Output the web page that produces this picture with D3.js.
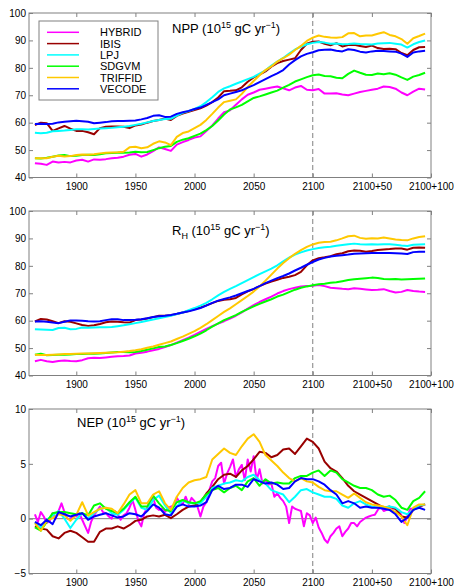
<!DOCTYPE html>
<html><head><meta charset="utf-8">
<script src="https://cdn.jsdelivr.net/npm/d3@7/dist/d3.min.js"></script>
<style>
body{margin:0;background:#fff;}
svg{display:block;font-family:"Liberation Sans",Arial,Helvetica,sans-serif;}
</style>
</head><body>
<svg id="chart" width="454" height="587"></svg>
<script>
// ---------------- DATA ----------------
const years = [1865,1870,1875,1880,1885,1890,1895,1900,1905,1910,
  1915,1920,1925,1930,1935,1940,1945,1950,1955,1960,
  1965,1970,1975,1980,1985,1990,1995,2000,2005,2010,
  2015,2020,2025,2030,2035,2040,2045,2050,2055,2060,
  2065,2070,2075,2080,2085,2090,2095,2100,2105,2110,
  2115,2120,2125,2130,2135,2140,2145,2150,2155,2160,
  2165,2170,2175,2180,2185,2190,2195];

// finer year grid (used for the spiky HYBRID NEP series)
const yearsFine = [1865,1867.5,1870,1872.5,1875,1877.5,1880,1882.5,1885,1887.5,
  1890,1892.5,1895,1897.5,1900,1902.5,1905,1907.5,1910,1912.5,
  1915,1917.5,1920,1922.5,1925,1927.5,1930,1932.5,1935,1937.5,
  1940,1942.5,1945,1947.5,1950,1952.5,1955,1957.5,1960,1962.5,
  1965,1967.5,1970,1972.5,1975,1977.5,1980,1982.5,1985,1987.5,
  1990,1992.5,1995,1997.5,2000,2002.5,2005,2007.5,2010,2012.5,
  2015,2017.5,2020,2022.5,2025,2027.5,2030,2032.5,2035,2037.5,
  2040,2042.5,2045,2047.5,2050,2052.5,2055,2057.5,2060,2062.5,
  2065,2067.5,2070,2072.5,2075,2077.5,2080,2082.5,2085,2087.5,
  2090,2092.5,2095,2097.5,2100,2102.5,2105,2107.5,2110,2112.5,
  2115,2117.5,2120,2122.5,2125,2127.5,2130,2132.5,2135,2137.5,
  2140,2142.5,2145,2147.5,2150,2152.5,2155,2157.5,2160,2162.5,
  2165,2167.5,2170,2172.5,2175,2177.5,2180,2182.5,2185,2187.5,
  2190,2192.5,2195];

const models = ["HYBRID","IBIS","LPJ","SDGVM","TRIFFID","VECODE"];
const colors = ["#ff00ff","#990000","#00ffff","#00ff00","#ffc800","#0000ff"];

const xTickValues = [1900,1950,2000,2050,2100,2150,2200];
const xTickLabels = ["1900","1950","2000","2050","2100","2100+50","2100+100"];
const yTicksFlux = [40,50,60,70,80,90,100];
const yTicksNEP = [-5,0,5,10];

// NPP
const nppHYBRID = [45.2,45,44.6,45.8,45.5,45.7,45.5,46.2,46.5,45.8,
  46.6,46.5,46.7,47,47.2,47.6,48.3,48.6,47.6,48.4,
  49.6,51,50.4,49.7,52,52.9,53.7,54.6,55,57,
  59,61.5,63.8,64.5,66.5,68.5,70.2,71,72,72.4,
  72.8,73.2,72.5,71.8,72.8,73.4,72,71.8,72.3,70.6,
  70.6,70.7,70.3,70,70.6,71.2,71.6,72,72.4,73.2,
  73,72.4,71,70,71.3,72.4,72.1];
const nppIBIS = [59.1,60,59.8,57,57.9,58.8,57.8,57,57,56.5,
  55.8,58,58.5,58.6,58.6,58.5,58,59,59.3,60,
  60.6,61,61.5,61,62.5,63.3,64,64.6,65.2,66.2,
  67.5,69.2,71.5,71.6,71.8,72.9,74.9,76.5,77.5,78.7,
  80.4,81.7,82.5,83,83.5,86.5,88.8,89.5,89.6,88.8,
  88.2,89,87.8,88.3,88.4,88,87.6,88.1,87.2,86.9,
  87,86.8,85.4,84.6,86.5,87.5,87.6];
const nppLPJ = [56.3,56.1,56.3,56.9,57,57.1,57.3,57.6,57.6,57.5,
  57.7,57.9,58,58.1,58.3,58.5,58.8,59.2,59.6,60.1,
  60.6,61,61.3,61.4,62.6,63.6,64.2,65,66,67.5,
  69.3,71.2,72.5,73.3,74.2,75,75.9,76.7,77.9,79.1,
  80.8,82.3,83.6,85.2,86.7,87.7,88.6,89.1,89.4,89.2,
  88.8,88.9,88.6,88.7,88.9,88.7,88.6,88.5,88.9,89,
  89.1,88.8,88.5,87.4,88.6,89.4,90];
const nppSDGVM = [47,46.9,47.2,47.6,48,48.2,47.8,47.9,48.2,48.3,
  48.2,48.5,48.8,48.9,49,49,49.1,49.4,49.2,49.3,
  50,50.7,51.2,51.5,53,53.8,54.3,55.2,56,57.3,
  58.8,60.8,63,64.8,65.6,66.5,67.8,69,69.6,70.3,
  71,71.7,72.8,73.8,75,75.8,76.6,77.3,77.6,77,
  76.9,76.4,76.2,77.8,79,78.2,77.5,77.4,77.9,77.7,
  78,77.5,76.5,75.6,76.8,77.4,78.2];
const nppTRIFFID = [47,47,47,47.6,47.9,47.7,47.8,48.2,48.4,48.3,
  48.5,48.8,49,49.1,49.2,49.4,51,51.2,50.7,51,
  52.3,53.2,52.8,51.8,54.8,56.2,56.8,58,59.2,61,
  63.2,65.5,67.5,68,68.5,70.5,73,75.2,77.3,79.2,
  80.5,82.3,83.5,84.8,86.5,88,89.8,91,91.8,91.3,
  91.1,91,91.2,92.6,92.7,91.5,91.8,91.8,92.4,93,
  92,91.5,90.5,88.8,90.8,91.6,92.5];
const nppVECODE = [59.5,59.6,59.5,59.6,60.1,60.3,60.5,60.7,60.5,60.3,
  59.8,60,60.2,60.5,60.6,60.6,60.7,60.8,61.2,61.7,
  62.5,62.7,62.1,62.2,63.2,63.8,64.3,65,65.5,66.5,
  67.5,68.5,70,70.6,71.2,71.8,72.8,73.7,74.8,75.9,
  77,78,79.2,81.2,82.8,84.2,85.1,85.7,86.4,86.6,
  86.7,86.2,86,86.8,86.5,85.9,85.6,86,86.2,86.1,
  86,85.9,85.2,84,85.6,86,86.2];

// RH
const rhHYBRID = [45.2,45.7,45.2,44.9,45.3,45.5,45.3,45.2,45.6,46.3,
  46.5,46.4,46.6,46.8,47,47.1,47.3,48,48.3,48.7,
  49.2,49.7,50.4,51.1,52,52.9,53.8,54.8,55.9,57,
  58,58.9,59.8,60.8,61.8,63,64.4,65.7,66.8,67.8,
  68.8,69.9,70.8,71.5,72,72.5,72.6,72.7,73,72.6,
  72,71.8,71.6,71.5,71.8,71.6,71.4,71.2,71.3,71.5,
  70.8,70.3,70.5,71.2,70.8,70.6,70.5];
const rhIBIS = [59.7,60.6,60.4,59.8,59.1,59.8,59.6,59,58.4,58.1,
  58.3,58.8,59.4,59.7,59.6,59.4,59.3,60.2,60.4,60.8,
  61.3,61.8,61.8,62,62.4,63,63.5,64.2,64.8,65.6,
  66.4,67.2,67.6,67.8,68.3,69.6,70.7,71.5,72.6,73.5,
  74.3,74.9,75.6,76,76.6,77.8,80.2,82,82.8,83.1,
  83.5,84.2,84.6,85.3,85.6,85.5,85.1,85.4,85.8,86,
  86.1,86.3,86.3,85.9,86.6,86.7,86.6];
const rhLPJ = [56.9,56.8,56.7,56.6,57.3,57.4,56.9,57,57.5,57.4,
  57.5,57.6,57.6,57.7,58,58.3,58.7,59.1,59.5,60,
  60.4,60.9,61.3,61.8,62.4,63,63.8,64.6,65.5,66.5,
  67.8,69.2,70.5,71.6,72.6,73.7,74.8,75.9,77,78,
  79,80.2,81.6,83,84.1,84.9,85.6,86.1,86.5,86.8,
  87,87.3,87.6,87.9,88.1,87.9,87.8,87.9,87.8,87.9,
  87.9,87.7,87.4,87.2,87.7,87.8,87.9];
const rhSDGVM = [47.6,47.9,47.4,47.5,47.6,47.6,47.7,47.8,47.8,47.9,
  47.9,48,48.2,48.4,48.6,48.6,48.5,48.6,48.9,49.4,
  49.9,50.4,50.6,51.1,51.8,52.6,53.4,54.3,55.3,56.5,
  57.8,59,60.2,61.1,62,63.2,64.2,65.2,66.1,67,
  67.8,68.8,69.5,70.4,71.3,72,72.5,72.9,73.3,73.5,
  73.8,74,74.4,74.8,75.1,75.3,75.5,75.7,75.6,75.2,
  75.1,75.2,75,75.1,75.2,75.3,75.4];
const rhTRIFFID = [47.6,47.5,47.5,47.6,47.7,47.8,47.8,47.9,48,48,
  48.1,48.2,48.3,48.4,48.5,48.7,48.9,49.2,49.6,50.1,
  50.6,51.2,51.8,52.4,53.3,54.2,55.2,56.2,57.4,58.7,
  60.2,61.7,63.2,64.5,66,67.5,69,70.6,72.5,74.6,
  76.8,79,81,82.8,84.4,85.7,86.9,87.8,88.4,88.7,
  88.8,89.3,90,90.8,91,90.2,89.9,90.1,90,90.3,
  90,89.6,89.4,89.3,90,90.5,90.8];
const rhVECODE = [59.7,59.8,59.6,59.3,59.1,59.6,60.1,60.1,60,59.8,
  59.7,59.8,60.2,60.5,60.5,60.2,60.2,60.3,60.5,60.9,
  61.3,61.6,61.8,62.1,62.5,63,63.4,64,64.6,65.5,
  66.5,67.3,67.9,68.5,69.2,70,70.8,71.6,72.6,73.7,
  74.6,75.5,76.3,77.2,78.3,79.3,80.4,81.4,82.3,82.9,
  83.4,83.7,83.9,84.1,84.4,84.5,84.6,84.7,84.7,84.7,
  84.7,84.6,84.5,84.3,85,85.1,85.1];

// NEP (HYBRID on the finer grid)
const nepHYBRID = [0.4,-0.3,0.6,0.2,-0.4,-0.2,0.5,0,0.7,1.4,
  0.6,0,-0.1,0.3,0.2,0.5,-0.1,-0.7,-1.3,-0.3,
  0.3,0.7,1.1,0.6,0.5,0.2,0,0.7,0.4,-0.1,
  0.3,0.5,1,1.7,0.8,-0.2,-0.7,0.5,1,1.6,
  1.9,1,0.8,0.9,0.6,1,1.1,1.2,1.9,1.5,
  1.3,2,1.3,1.9,1.6,1.1,0.2,1.1,1.5,2.6,
  3.4,3.7,4.8,5.1,3.2,4.1,4.7,5.4,3.8,4.5,
  4.9,3.5,5.4,4.3,5.7,3.5,4.5,3.2,3.5,3.1,
  3.2,2,2.3,1.9,1.6,1.1,-0.4,1.1,0.9,0.8,
  0.7,-0.7,0.5,0.3,-0.4,0.1,-0.8,-1.3,-1.9,-2.2,
  -1.6,-1.3,-0.9,-0.7,-1.6,-1.2,-0.9,-0.4,-0.4,-0.7,
  -0.3,-0.1,0.1,0.2,0.3,0.35,0.8,1.1,0.7,0.8,
  1,0.9,0.9,0.8,0.3,-0.4,0.2,0.9,0.9,1,
  1.1,1.2,1.3];
const nepIBIS = [-0.7,-0.9,-1,-1.6,-1.8,-1.3,-1.1,-1.3,-1.7,-2.1,
  -2.1,-1.2,-0.9,-0.9,-0.7,-0.9,-0.6,-0.2,-0.1,0.2,
  0.3,0.2,0.35,0.05,0.4,0.8,1.1,1.2,1.5,2.3,
  2.9,3.6,4,4.1,3.8,4.4,4.8,5.4,6.1,6,
  5.6,5.8,6.3,6.4,5.9,6.6,7.3,7,6.4,5.2,
  4.6,4.3,3.7,3,2.5,2.2,1.9,1.6,1.3,1,
  1.1,0.9,0.2,0.1,0.8,1.1,1.3];
const nepLPJ = [-0.4,-0.8,-0.1,0.3,0.7,0,-0.85,-0.1,0.5,0,
  0.5,0.9,1,0.5,0.35,0.8,1.4,1.9,1,0.8,
  1.7,2.1,1.2,0.5,1.1,1.7,1.4,1.4,1.4,2,
  2.8,3,3.2,3.3,3.5,3.4,3.8,4,3.5,3.2,
  2.6,2.4,2.2,1.5,2,2.6,2.7,2.4,2.2,2,
  2,1.8,1.2,1,1.4,1.6,1.3,1.1,1,1,
  1.1,1,0.6,0.4,0.8,1.2,1.3];
const nepSDGVM = [-0.8,-1.1,-0.3,0.5,0.6,0.6,0.5,0.4,0.5,0.3,
  1.2,1.4,0.9,0.7,0.5,0.9,1.5,2,1.1,1.1,
  2.1,1.4,0.8,0.7,1.5,1.7,1.5,1.4,1.6,2.2,
  2.6,2.8,2.4,2.8,3,2.6,3.4,3.7,3,3.6,
  3.2,3.3,3.2,3.2,3.7,3.9,3.9,4.2,4.4,3.9,
  4.4,4.2,3.6,3.3,3,2.8,2.8,2.6,2.2,2,
  2.1,1.7,1,0.8,1.6,1.9,2.5];
const nepTRIFFID = [-0.4,-1.1,-0.2,0.05,0.4,0.3,-0.2,0.35,1.5,0.3,
  0.6,0.9,1,0.9,0.5,1.3,2.2,2.6,1.4,1.4,
  2.2,2.5,1.4,0.8,2,2.8,3.3,3.5,3.6,3.8,
  5.4,5.9,6.4,6,5.8,6.6,7.3,7.7,7,5.8,
  5.3,4.8,4.2,3.7,3.4,3.7,3.4,3.3,2.9,2.6,
  2.5,2.5,2.2,1.9,2.3,1.9,1.5,1.3,1.2,1.1,
  0.9,0.6,0.2,-0.6,1,1.3,1.3];
const nepVECODE = [-0.3,-0.6,-0.1,-0.5,0.6,0.4,0.2,0.35,0.5,-0.1,
  0.2,0.35,0.5,0.3,0.1,0.2,0.5,0.4,0.2,0.7,
  1.3,1,0.4,0.3,1.1,1.3,1.1,1.1,1.2,1.5,
  2.6,3,2.7,2.8,3.1,3.1,2.9,3.6,3.4,3.2,
  3.3,3.1,2.7,2.8,3.4,3.7,3.6,3.6,3.4,3.1,
  2.6,2.2,1.4,1.6,1.4,1,1.1,1,1,0.9,
  0.8,0.4,-0.3,0.1,0.8,1,0.8];

// ---------------- DRAW ----------------
const svg = d3.select("#chart");
const L = 29, R = 431, H = 164.5;
const x = d3.scaleLinear().domain([1860, 2200]).range([L, R]);
const gridGray = "#808080";

const panels = [
  {top: 13, domain: [40,100], ticks: yTicksFlux,
   series: [nppHYBRID,nppIBIS,nppLPJ,nppSDGVM,nppTRIFFID,nppVECODE],
   xs: [years,years,years,years,years,years], title: "NPP", tx: 172, ty: 33},
  {top: 211, domain: [40,100], ticks: yTicksFlux,
   series: [rhHYBRID,rhIBIS,rhLPJ,rhSDGVM,rhTRIFFID,rhVECODE],
   xs: [years,years,years,years,years,years], title: "RH", tx: 172, ty: 235},
  {top: 409, domain: [-5,10], ticks: yTicksNEP,
   series: [nepHYBRID,nepIBIS,nepLPJ,nepSDGVM,nepTRIFFID,nepVECODE],
   xs: [yearsFine,years,years,years,years,years], title: "NEP", tx: 77, ty: 427, zero: true}
];

panels.forEach((p, pi) => {
  const y = d3.scaleLinear().domain(p.domain).range([p.top + H, p.top]);
  const g = svg.append("g");

  const cid = "clip" + pi;
  svg.append("clipPath").attr("id", cid).append("rect")
    .attr("x", L).attr("y", p.top).attr("width", R - L).attr("height", H);

  if (p.zero) {
    g.append("line").attr("x1", L).attr("x2", R).attr("y1", y(0)).attr("y2", y(0))
      .attr("stroke", gridGray).attr("stroke-width", 1);
  }
  g.append("line").attr("x1", x(2100)).attr("x2", x(2100)).attr("y1", p.top).attr("y2", p.top + H)
    .attr("stroke", gridGray).attr("stroke-width", 1).attr("stroke-dasharray", "5,3");

  const lg = g.append("g").attr("clip-path", `url(#${cid})`);
  p.series.forEach((s, si) => {
    const xv = p.xs[si];
    const line = d3.line().x((d, i) => x(xv[i])).y(d => y(d));
    lg.append("path").datum(s).attr("d", line)
      .attr("fill", "none").attr("stroke", colors[si]).attr("stroke-width", 2)
      .attr("stroke-linejoin", "round");
  });

  const fmtX = d => xTickLabels[xTickValues.indexOf(d)];
  const axB = g.append("g").attr("transform", `translate(0,${p.top + H})`)
    .call(d3.axisBottom(x).tickValues(xTickValues).tickFormat(fmtX).tickSizeInner(-4).tickSizeOuter(0).tickPadding(5));
  const axT = g.append("g").attr("transform", `translate(0,${p.top})`)
    .call(d3.axisTop(x).tickValues(xTickValues).tickFormat("").tickSizeInner(-4).tickSizeOuter(0));
  const axL = g.append("g").attr("transform", `translate(${L},0)`)
    .call(d3.axisLeft(y).tickValues(p.ticks).tickFormat(d3.format("d")).tickSizeInner(-4).tickSizeOuter(0).tickPadding(3));
  const axR = g.append("g").attr("transform", `translate(${R},0)`)
    .call(d3.axisRight(y).tickValues(p.ticks).tickFormat("").tickSizeInner(-4).tickSizeOuter(0));
  [axB, axT, axL, axR].forEach(a => {
    a.select(".domain").remove();
    a.selectAll(".tick line").attr("stroke", gridGray);
    a.selectAll("text").attr("fill", "#000").style("font-size", "10px")
      .style("font-family", '"Liberation Sans",Arial,Helvetica,sans-serif');
  });

  g.append("rect").attr("x", L).attr("y", p.top).attr("width", R - L).attr("height", H)
    .attr("fill", "none").attr("stroke", gridGray).attr("stroke-width", 1);

  const t = g.append("text").attr("x", p.tx).attr("y", p.ty).attr("font-size", 13).attr("fill", "#000");
  if (p.title === "RH") {
    t.append("tspan").text("R");
    t.append("tspan").attr("dy", 4).attr("font-size", 9).text("H");
    t.append("tspan").attr("dy", -4).text(" (10");
  } else {
    t.append("tspan").text(p.title + " (10");
  }
  t.append("tspan").attr("dy", -5).attr("font-size", 9).text("15");
  t.append("tspan").attr("dy", 5).text(" gC yr");
  t.append("tspan").attr("dy", -5).attr("font-size", 9).text("\u22121");
  t.append("tspan").attr("dy", 5).text(")");
});

// legend
const lgd = svg.append("g");
lgd.append("rect").attr("x", 39).attr("y", 21).attr("width", 119).attr("height", 79)
  .attr("fill", "#fff").attr("stroke", gridGray).attr("stroke-width", 1);
models.forEach((m, i) => {
  const yy = 32.3 + i * 11.3;
  lgd.append("line").attr("x1", 47).attr("x2", 79).attr("y1", yy).attr("y2", yy)
    .attr("stroke", colors[i]).attr("stroke-width", 1.5);
  lgd.append("text").attr("x", 100).attr("y", yy + 4).attr("font-size", 11).attr("fill", "#000").text(m);
});
</script>
</body></html>
